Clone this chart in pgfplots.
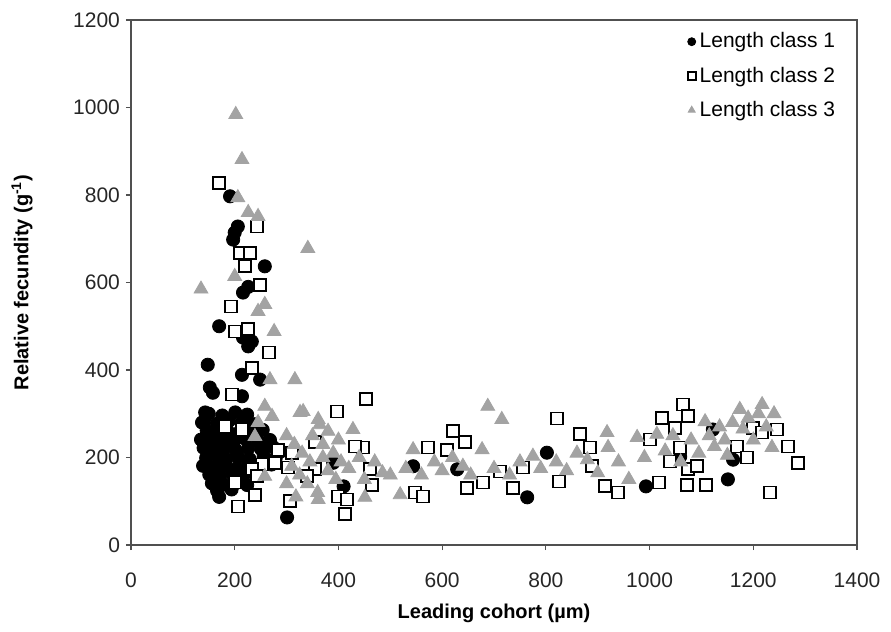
\documentclass[border=0pt]{standalone}
\usepackage{pgfplots}
\pgfplotsset{compat=1.18}
\usepackage{fontspec}
\setmainfont{Liberation Sans}
\definecolor{tri}{RGB}{163,163,163}
\definecolor{frame}{RGB}{80,80,80}

\begin{document}
\begin{tikzpicture}
\begin{axis}[
    scale only axis,
    width=363pt, height=262.5pt,
    xmin=0, xmax=1400, ymin=0, ymax=1200,
    xtick={0,200,...,1400}, ytick={0,200,...,1200},
    tick align=outside, tick pos=left,
    major tick length=2.5pt,
    axis line style={frame, line width=0.9pt},
    every tick/.style={frame, line width=0.6pt},
    /pgf/number format/assume math mode=true,
    /pgf/number format/1000 sep={},
    ticklabel style={font=\fontsize{10.5}{12}\selectfont, text=black!85},
    xticklabel style={yshift=-8pt},
    yticklabel style={xshift=0.5pt},
    xlabel={Leading cohort (µm)},
    ylabel={Relative fecundity (g\textsuperscript{-1})},
    label style={font=\bfseries\fontsize{10}{12}\selectfont},
    xlabel style={at={(axis description cs:0.5,-0.13)}, anchor=center},
    ylabel style={at={(axis description cs:-0.15,0.5)}, anchor=center},
    legend style={draw=none, fill=none, at={(0.758,0.992)}, anchor=north west,
      font=\fontsize{10.5}{12}\selectfont, row sep=4pt},
    legend cell align=left,
    legend image code/.code={\draw[mark size=2pt] plot coordinates {(0.12cm,0cm)};},
]
% length class 1
\addplot[only marks, mark=*, mark size=3.3pt, black] coordinates {
(191,797) (206,728) (200,714) (197,698) (258,637) (226,590) (216,577)
(170,500) (216,474) (233,465) (226,454) (148,412) (214,389) (249,378)
(152,360) (158,348) (214,340) (143,303) (137,280)
(150,300) (176,296) (201,303) (224,298)
(141,282) (166,277) (189,284) (214,279) (238,276)
(146,262) (161,257) (186,261) (206,255) (231,259) (254,263)
(135,241) (156,237) (176,244) (199,238) (221,242) (246,236) (268,240)
(140,222) (161,218) (181,223) (202,217) (226,221) (251,219) (274,224) (289,214)
(145,199) (166,203) (184,197) (207,201) (229,196) (256,203) (279,198)
(139,181) (161,178) (182,183) (204,176) (226,182) (249,178) (271,184)
(151,161) (171,158) (194,163) (216,157) (239,162)
(156,141) (179,138) (205,143) (224,137)
(166,124) (194,127) (170,110) (301,63)
(390,188) (410,134) (544,180) (629,173) (764,109) (802,211)
(993,134) (1059,202) (1122,264) (1151,150) (1161,195)
};
% length class 2
\addplot[only marks, mark=square*, mark size=3pt,
  mark options={fill=white, draw=black, line width=0.9pt}] coordinates {
(170,828) (243,728) (210,668) (229,668) (220,637) (249,595) (193,545)
(200,488) (226,493) (266,440) (233,405) (195,344) (181,271) (214,264)
(284,218) (310,211) (278,188) (252,184) (303,177) (233,173) (243,157)
(200,143) (239,115) (206,88) (307,100)
(453,333) (397,305) (355,236) (448,223) (432,225) (461,173) (355,173)
(339,157) (465,138) (399,111) (416,104) (413,70) (548,120) (563,111)
(573,223) (609,218) (621,260) (644,236) (648,131) (679,143) (711,168)
(737,131) (756,177) (825,145) (821,289) (866,253) (885,223) (889,180)
(914,134) (939,120)
(1001,241) (1018,143) (1024,291) (1039,191) (1049,268) (1059,223)
(1064,321) (1074,294) (1074,173) (1091,180) (1072,138) (1109,138)
(1168,225) (1188,200) (1199,268) (1217,257) (1232,120) (1246,264)
(1267,225) (1286,188)
};
% length class 3
\addplot[only marks, mark=triangle*, mark size=4pt, tri,
  mark options={draw=none, fill=tri}] coordinates {
(202,984) (214,881) (206,794) (226,760) (245,751) (341,678) (200,614)
(135,585) (258,550) (245,534) (276,488) (268,378) (316,378) (258,317)
(272,294) (326,303) (361,287) (245,280) (239,248) (258,157) (332,305)
(364,275) (428,264) (380,260)
(300,250) (315,230) (330,210) (345,190) (310,180) (325,160) (340,140)
(360,120) (300,140) (318,110) (370,230) (390,210) (405,190) (380,170)
(395,150) (420,175) (440,200) (470,190) (485,165) (450,150) (361,104)
(451,109) (500,160) (370,200) (350,250) (400,240)
(519,115) (530,175) (544,218) (560,160) (585,190) (600,170) (620,200)
(640,180) (655,160) (677,218) (688,317) (715,287) (700,175) (730,160)
(750,190) (775,203) (790,175) (820,190) (840,170) (860,210) (880,195)
(900,165) (918,257) (920,223) (940,190) (960,150) (976,246) (990,200)
(1014,253) (1030,215) (1045,250) (1060,190) (1080,240) (1095,210)
(1107,282) (1115,250) (1125,225) (1135,270) (1145,240) (1150,205)
(1160,280) (1174,310) (1180,265) (1190,290) (1200,240) (1210,300)
(1217,321) (1225,270) (1236,223) (1240,300)
};
\legend{Length class 1, Length class 2, Length class 3}
\end{axis}
\path (current axis.south west) ++(-65.5pt,-43pt) coordinate (bl);
\path (current axis.north east) ++(17pt,10pt) coordinate (tr);
\path (bl) rectangle (tr);
\end{tikzpicture}
\end{document}
